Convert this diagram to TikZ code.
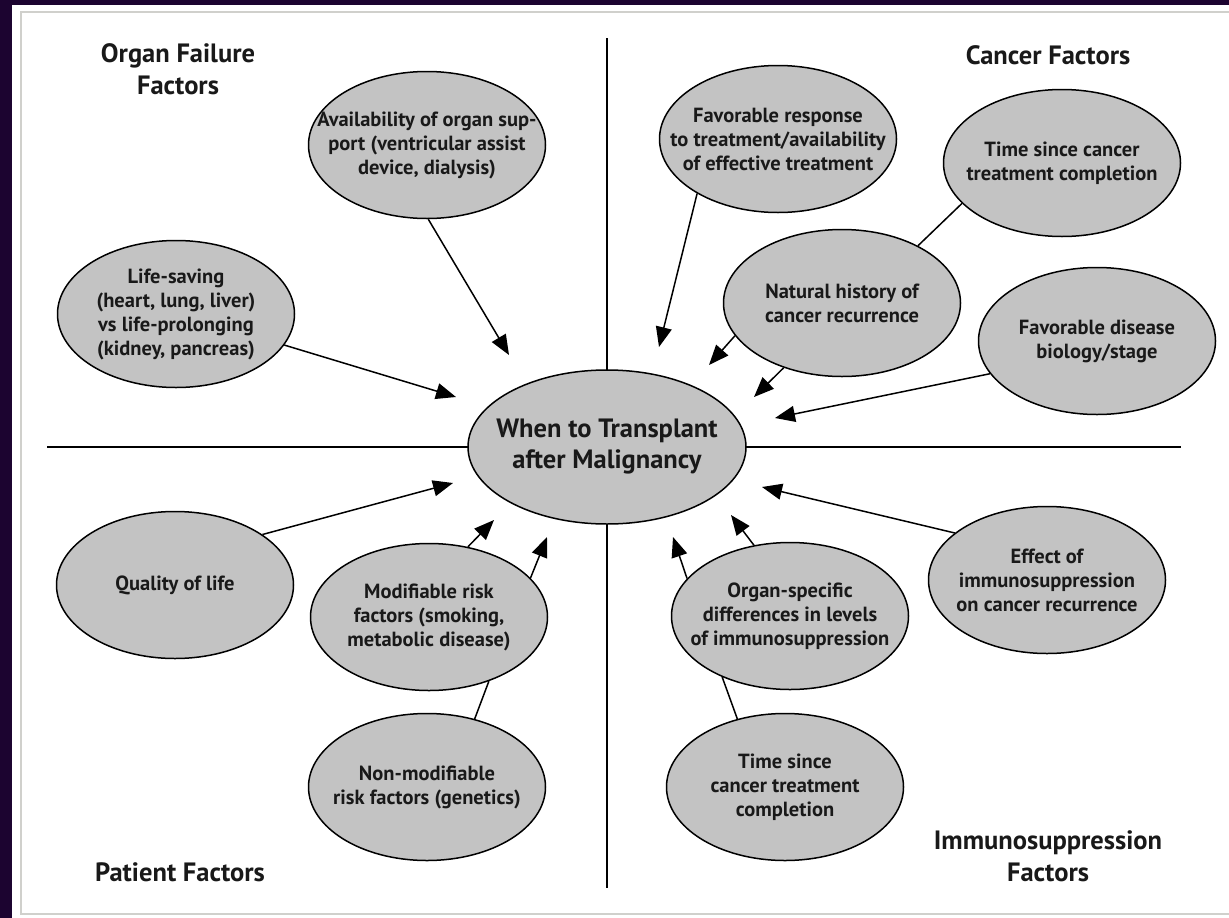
\documentclass[tikz,border=0pt]{standalone}
\usepackage{fontspec}
\setmainfont{PT Sans}
\usetikzlibrary{shapes.geometric,arrows.meta}
\definecolor{framecol}{RGB}{28,4,48}
\definecolor{bordergrey}{RGB}{208,208,204}
\definecolor{ellfill}{RGB}{195,195,195}
\definecolor{inkcol}{RGB}{25,25,25}
\begin{document}
\begin{tikzpicture}[x=1pt,y=-1pt,
  bubble/.style={ellipse,draw=black,line width=1.5pt,fill=ellfill,minimum width=237pt,minimum height=147pt,inner xsep=-30pt,inner ysep=0pt,align=center,text=inkcol,font=\bfseries\fontsize{20.5}{24}\selectfont},
  hub/.style={bubble,minimum width=278pt,minimum height=154pt,inner xsep=-14pt,font=\bfseries\fontsize{26.5}{31}\selectfont},
  heading/.style={inner sep=0pt,align=center,text=inkcol,font=\bfseries\fontsize{26.5}{32}\selectfont},
  divider/.style={line width=2.6pt,black},
  link/.style={line width=1.5pt,black},
  arr/.style={link,-{Triangle[length=20pt,width=16pt]}}
]
\useasboundingbox (0,0) rectangle (1229,918);
% frame
\fill[framecol] (0,0) rectangle (1229,918);
\fill[white] (12,5) rectangle (1229,918);
\draw[bordergrey,line width=2.5pt] (1229,12) -- (21,12) -- (21,914) -- (1229,914);

% dividers
\coordinate (vtop) at (607,38);
\coordinate (vbot) at (607,888);
\coordinate (hleft) at (47,447);
\coordinate (hright) at (1181,447);
\draw[divider] (vtop) -- (vbot);
\draw[divider] (hleft) -- (hright);

% headings
\node[heading] (hOF) at (178,69) {Organ Failure\\Factors};
\node[heading] (hCF) at (1048,55) {Cancer Factors};
\node[heading] (hPF) at (180,872) {Patient Factors};
\node[heading] (hIF) at (1048,856) {Immunosuppression\\Factors};

% hub
\node[hub] (hub) at (607,447) {When to Transplant\\after Malignancy};

% bubbles
\node[bubble] (avail) at (427,145) {Availability of organ sup-\\port (ventricular assist\\device, dialysis)};
\node[bubble] (life) at (176,314) {Life-saving\\(heart, lung, liver)\\vs life-prolonging\\(kidney, pancreas)};
\node[bubble] (favresp) at (778,139) {Favorable response\\to treatment/availability\\of effective treatment};
\node[bubble] (tsc) at (1062,163) {Time since cancer\\treatment completion};
\node[bubble] (nat) at (842,303) {Natural history of\\cancer recurrence};
\node[bubble] (favdis) at (1097,341) {Favorable disease\\biology/stage};
\node[bubble] (qol) at (175,585) {Quality of life};
\node[bubble] (modif) at (429,617) {Modifiable risk\\factors (smoking,\\metabolic disease)};
\node[bubble] (nonmod) at (427,787) {Non-modifiable\\risk factors (genetics)};
\node[bubble] (effect) at (1047,580) {Effect of\\immunosuppression\\on cancer recurrence};
\node[bubble] (orgsp) at (790,616) {Organ-specific\\differences in levels\\of immunosuppression};
\node[bubble] (tsi) at (785,787) {Time since\\cancer treatment\\completion};

% arrow tips (free ends)
\coordinate (tAvail) at (509,355);
\coordinate (tLife) at (456,397);
\coordinate (tFav) at (659,347);
\coordinate (tNat1) at (709,365);
\coordinate (tNat2) at (754,397);
\coordinate (tDis) at (775,418);
\coordinate (tQol) at (453,483);
\coordinate (tMod1) at (494,520);
\coordinate (tMod2) at (547,537);
\coordinate (tEff) at (762,487);
\coordinate (tOrg1) at (673,537);
\coordinate (tOrg2) at (731,515);

% connectors
\draw[arr] (avail.-89) -- (tAvail);
\draw[arr] (life.-16) -- (tLife);
\draw[arr] (favresp.214) -- (tFav);
\draw[link] (tsc.202) -- (nat.37);
\draw[arr] (nat.197) -- (tNat1);
\draw[arr] (nat.228) -- (tNat2);
\draw[arr] (favdis.197) -- (tDis);
\draw[arr] (qol.30) -- (tQol);
\draw[arr] (modif.61) -- (tMod1);
\draw[arr] (modif.21) -- (tMod2);
\draw[link] (nonmod.55) -- (modif.-47);
\draw[arr] (effect.153) -- (tEff);
\draw[arr] (orgsp.160) -- (tOrg1);
\draw[arr] (orgsp.117) -- (tOrg2);
\draw[link] (tsi.125) -- (orgsp.222);
\end{tikzpicture}
\end{document}
